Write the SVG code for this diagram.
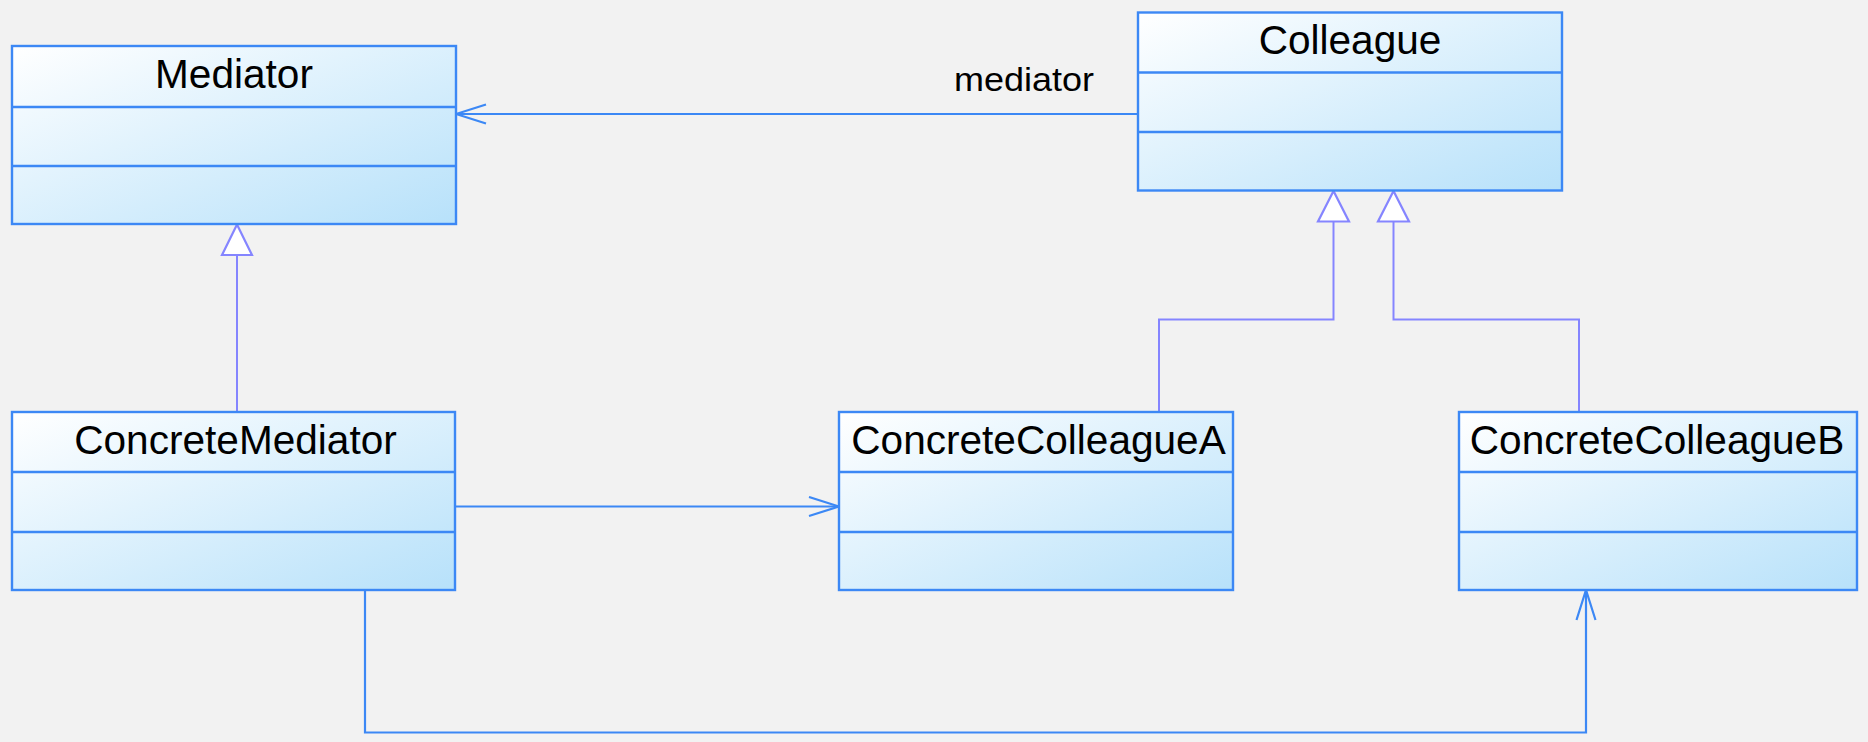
<svg xmlns="http://www.w3.org/2000/svg" width="1868" height="742" viewBox="0 0 1868 742">
  <defs>
    <linearGradient id="fillGrad" x1="0" y1="0" x2="1" y2="1">
      <stop offset="0" stop-color="#ffffff"/>
      <stop offset="1" stop-color="#b7e1fa"/>
    </linearGradient>
    <marker id="openArrow" viewBox="0 0 32 22" refX="31" refY="11" markerWidth="32" markerHeight="22" markerUnits="userSpaceOnUse" orient="auto">
      <path d="M1,1.5 L31,11 L1,20.5" fill="none" stroke="#3c88f5" stroke-width="2.2"/>
    </marker>
  </defs>
  <style>
    .box { fill: url(#fillGrad); stroke: #3c88f5; stroke-width: 2.4; }
    .div { stroke: #3c88f5; stroke-width: 2.4; }
    .title { font-family: "Liberation Sans", Arial, sans-serif; font-size: 40.6px; fill: #000; text-anchor: middle; }
    .role { font-family: "Liberation Sans", Arial, sans-serif; font-size: 32.5px; fill: #000; }
    .assoc { fill: none; stroke: #3c88f5; stroke-width: 2.2; }
    .gen { fill: none; stroke: #8585ff; stroke-width: 2; }
    .tri { fill: #ffffff; stroke: #8585ff; stroke-width: 2.2; }
  </style>
  <rect x="0" y="0" width="1868" height="742" fill="#f2f2f2"/>

  <g id="connectors">
    <!-- Colleague -> Mediator association -->
    <line class="assoc" x1="1138" y1="114" x2="456" y2="114" marker-end="url(#openArrow)"/>
    <text class="role" x="954" y="91" textLength="140" lengthAdjust="spacingAndGlyphs">mediator</text>
    <!-- ConcreteMediator -> Mediator generalization -->
    <line class="gen" x1="237" y1="412" x2="237" y2="255"/>
    <polygon class="tri" points="237,224.5 222,255 252,255"/>
    <!-- ConcreteColleagueA -> Colleague -->
    <polyline class="gen" points="1159,412 1159,319.5 1333.5,319.5 1333.5,221.5"/>
    <polygon class="tri" points="1333.5,191 1318,221.5 1349,221.5"/>
    <!-- ConcreteColleagueB -> Colleague -->
    <polyline class="gen" points="1579,412 1579,319.5 1393.5,319.5 1393.5,221.5"/>
    <polygon class="tri" points="1393.5,191 1378,221.5 1409,221.5"/>
    <!-- ConcreteMediator -> ConcreteColleagueA -->
    <line class="assoc" x1="455" y1="506.5" x2="839" y2="506.5" marker-end="url(#openArrow)"/>
    <!-- ConcreteMediator -> ConcreteColleagueB -->
    <polyline class="assoc" points="365,590 365,732.5 1586,732.5 1586,590" marker-end="url(#openArrow)"/>
  </g>

  <g id="Mediator">
    <rect class="box" x="12" y="46" width="444" height="178"/>
    <line class="div" x1="12" y1="107" x2="456" y2="107"/>
    <line class="div" x1="12" y1="166" x2="456" y2="166"/>
    <text class="title" x="234" y="88">Mediator</text>
  </g>

  <g id="Colleague">
    <rect class="box" x="1138" y="12.5" width="424" height="178"/>
    <line class="div" x1="1138" y1="72.5" x2="1562" y2="72.5"/>
    <line class="div" x1="1138" y1="132" x2="1562" y2="132"/>
    <text class="title" x="1350" y="54">Colleague</text>
  </g>

  <g id="ConcreteMediator">
    <rect class="box" x="12" y="412" width="443" height="178"/>
    <line class="div" x1="12" y1="472" x2="455" y2="472"/>
    <line class="div" x1="12" y1="532" x2="455" y2="532"/>
    <text class="title" x="235.5" y="453.5">ConcreteMediator</text>
  </g>

  <g id="ConcreteColleagueA">
    <rect class="box" x="839" y="412" width="394" height="178"/>
    <line class="div" x1="839" y1="472" x2="1233" y2="472"/>
    <line class="div" x1="839" y1="532" x2="1233" y2="532"/>
    <text class="title" x="1038.5" y="453.5">ConcreteColleagueA</text>
  </g>

  <g id="ConcreteColleagueB">
    <rect class="box" x="1459" y="412" width="398" height="178"/>
    <line class="div" x1="1459" y1="472" x2="1857" y2="472"/>
    <line class="div" x1="1459" y1="532" x2="1857" y2="532"/>
    <text class="title" x="1657" y="453.5">ConcreteColleagueB</text>
  </g>
</svg>
